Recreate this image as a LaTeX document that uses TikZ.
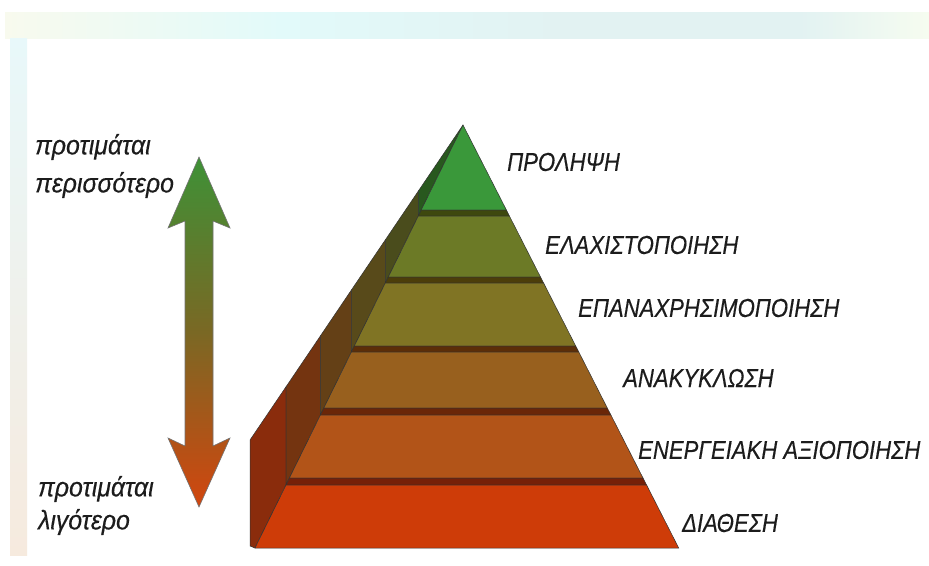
\documentclass[tikz,border=0pt]{standalone}
\usepackage{fontspec}
\newfontfamily\lbl[FakeStretch=0.85, FakeBold=0.3]{Liberation Sans}
\newfontfamily\sidelbl[FakeStretch=0.92, FakeBold=0.3]{Liberation Sans}
\definecolor{f1}{RGB}{58,152,58}
\definecolor{f2}{RGB}{108,122,38}
\definecolor{f3}{RGB}{128,116,36}
\definecolor{f4}{RGB}{152,96,30}
\definecolor{f5}{RGB}{178,84,24}
\definecolor{f6}{RGB}{206,60,8}
\definecolor{b1}{RGB}{62,72,14}
\definecolor{b2}{RGB}{76,62,10}
\definecolor{b3}{RGB}{92,46,8}
\definecolor{b4}{RGB}{106,38,8}
\definecolor{b5}{RGB}{118,32,8}
\definecolor{s1}{RGB}{40,88,30}
\definecolor{s2}{RGB}{74,76,28}
\definecolor{s3}{RGB}{88,74,26}
\definecolor{s4}{RGB}{100,64,22}
\definecolor{s5}{RGB}{116,52,16}
\definecolor{s6}{RGB}{138,44,12}
\definecolor{arrtop}{RGB}{62,145,55}
\definecolor{arrmid}{RGB}{122,104,36}
\definecolor{arrbot}{RGB}{210,70,15}
\definecolor{txt}{RGB}{28,28,28}
\definecolor{bandl}{RGB}{248,250,238}
\definecolor{bandc}{RGB}{226,250,250}
\definecolor{bandm}{RGB}{226,242,242}
\definecolor{bandr}{RGB}{246,252,240}
\definecolor{stript}{RGB}{232,248,250}
\definecolor{stripb}{RGB}{246,234,222}
\pgfdeclarehorizontalshading{bandshade}{100bp}{color(0bp)=(bandl); color(25bp)=(bandl); color(40bp)=(bandc); color(55bp)=(bandm); color(68bp)=(bandm); color(75bp)=(bandr); color(100bp)=(bandr)}
\begin{document}
\begin{tikzpicture}[x=1pt,y=-1pt,
  face/.style={draw=black!80, line width=0.5pt},
  lab/.style={font=\lbl\itshape\fontsize{26}{28}\selectfont, text=txt, inner sep=0pt, anchor=west},
  sidelab/.style={font=\sidelbl\itshape\fontsize{27}{28}\selectfont, text=txt, inner sep=0pt, anchor=west}]
\useasboundingbox (0,0) rectangle (929,565);
\fill[white] (0,0) rectangle (929,565);
% faint background strips
\shade[shading=bandshade] (5,12) rectangle (929,38);
\shade[top color=stript, bottom color=stripb] (10,38) rectangle (27,555);

% side faces of the layers
\filldraw[face, fill=s6] (255,548) -- (250,546) -- (250,440) -- (286,386.8) -- (286,485) -- cycle;
\filldraw[face, fill=s5] (286,485) -- (286,386.8) -- (320.4,335.9) -- (320.4,415) -- cycle;
\filldraw[face, fill=s4] (320.4,415) -- (320.4,335.9) -- (351.4,290.0) -- (351.4,352) -- cycle;
\filldraw[face, fill=s3] (351.4,352) -- (351.4,290.0) -- (385.3,239.9) -- (385.3,283) -- cycle;
\filldraw[face, fill=s2] (385.3,283) -- (385.3,239.9) -- (418.3,191.1) -- (418.3,216) -- cycle;
\filldraw[face, fill=s1] (418.3,216) -- (418.3,191.1) -- (463,125) -- cycle;

% front faces and top bands
\filldraw[face, fill=f1] (463,125) -- (506.4,210) -- (421.2,210) -- cycle;
\filldraw[face, fill=b1] (421.2,210) -- (506.4,210) -- (509.4,216) -- (418.3,216) -- cycle;
\filldraw[face, fill=f2] (418.3,216) -- (509.4,216) -- (540.5,277) -- (388.3,277) -- cycle;
\filldraw[face, fill=b2] (388.3,277) -- (540.5,277) -- (543.6,283) -- (385.3,283) -- cycle;
\filldraw[face, fill=f3] (385.3,283) -- (543.6,283) -- (575.7,346) -- (354.3,346) -- cycle;
\filldraw[face, fill=b3] (354.3,346) -- (575.7,346) -- (578.8,352) -- (351.4,352) -- cycle;
\filldraw[face, fill=f4] (351.4,352) -- (578.8,352) -- (607.3,408) -- (323.8,408) -- cycle;
\filldraw[face, fill=b4] (323.8,408) -- (607.3,408) -- (610.9,415) -- (320.4,415) -- cycle;
\filldraw[face, fill=f5] (320.4,415) -- (610.9,415) -- (643,478) -- (289.4,478) -- cycle;
\filldraw[face, fill=b5] (289.4,478) -- (643,478) -- (646.6,485) -- (286,485) -- cycle;
\filldraw[face, fill=f6] (286,485) -- (646.6,485) -- (678.7,548) -- (255,548) -- cycle;

% double arrow with gradient
\path[draw=black!55, line width=0.6pt, top color=arrtop, bottom color=arrbot, middle color=arrmid]
  (199,157) -- (230,228) -- (213,221) -- (213,446) -- (230,438) -- (199,507)
  -- (168,438) -- (185,446) -- (185,221) -- (168,228) -- cycle;

% labels
\node[lab] (l1) at (507,162) {ΠΡΟΛΗΨΗ};
\node[lab] (l2) at (545,245) {ΕΛΑΧΙΣΤΟΠΟΙΗΣΗ};
\node[lab] (l3) at (578,308) {ΕΠΑΝΑΧΡΗΣΙΜΟΠΟΙΗΣΗ};
\node[lab] (l4) at (623,378) {ΑΝΑΚΥΚΛΩΣΗ};
\node[lab] (l5) at (638,450) {ΕΝΕΡΓΕΙΑΚΗ ΑΞΙΟΠΟΙΗΣΗ};
\node[lab] (l6) at (682,523) {ΔΙΑΘΕΣΗ};

\node[sidelab] (m1) at (35,147) {προτιμάται};
\node[sidelab] (m2) at (35,185) {περισσότερο};
\node[sidelab] (n1) at (38,489) {προτιμάται};
\node[sidelab] (n2) at (38,522) {λιγότερο};
\end{tikzpicture}
\end{document}
